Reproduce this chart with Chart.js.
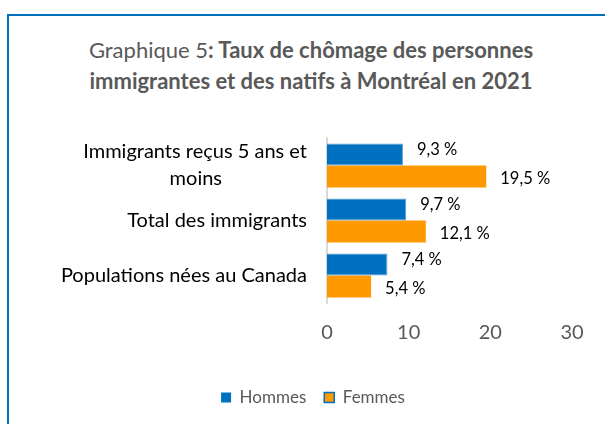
<!DOCTYPE html>
<html><head><meta charset="utf-8">
<script src="https://cdn.jsdelivr.net/npm/chart.js@4/dist/chart.umd.min.js"></script>
<style>
html,body{margin:0;padding:0;background:#fff;width:605px;height:424px;overflow:hidden;}
#frame{position:absolute;left:7px;top:14px;width:640px;height:460px;border:2px solid #0070C0;box-sizing:border-box;}
#title{position:absolute;left:0;top:34px;width:622px;text-align:center;font-family:Lato,sans-serif;font-size:22px;line-height:31px;color:#595959;}
#title b{font-weight:bold;}
#wrap{position:absolute;left:0;top:0;width:605px;height:424px;}
</style></head>
<body>
<div id="frame"></div>
<div id="title">Graphique 5<b>: Taux de chômage des personnes<br>immigrantes et des natifs à Montréal en 2021</b></div>
<div id="wrap"><canvas id="c" width="605" height="424"></canvas></div>
<script>
const categories = [["Immigrants reçus 5 ans et","moins"], "Total des immigrants", "Populations nées au Canada"];
const seriesNames = ["Hommes", "Femmes"];
const hommes = [9.3, 9.7, 7.4];
const femmes = [19.5, 12.1, 5.4];
const xTicks = [0, 10, 20, 30];

const fmt = v => v.toFixed(1).replace('.', ',') + ' %';
const yFont = '20px Lato, sans-serif';
const mctx = document.createElement('canvas').getContext('2d');
mctx.font = yFont;
// center the lines of a multi-line category label (right-aligned block)
function centerLines(lbl) {
  if (!Array.isArray(lbl)) return lbl;
  const widths = lbl.map(l => mctx.measureText(l).width);
  const maxW = Math.max(...widths);
  const sp = mctx.measureText('\u2009').width || 3;
  return lbl.map((l, i) => l + '\u2009'.repeat(Math.round((maxW - widths[i]) / 2 / sp)));
}

const labelPlugin = {
  id: 'barLabels',
  afterDatasetsDraw(chart) {
    const ctx = chart.ctx;
    ctx.save();
    ctx.font = '16.5px Lato, sans-serif';
    ctx.fillStyle = '#000';
    ctx.textAlign = 'left';
    ctx.textBaseline = 'middle';
    const dy = [-5, 2];
    chart.data.datasets.forEach((ds, di) => {
      const meta = chart.getDatasetMeta(di);
      meta.data.forEach((el, i) => {
        ctx.fillText(fmt(ds.data[i]), el.x + 14, el.y + dy[di]);
      });
    });
    ctx.restore();
  }
};

new Chart(document.getElementById('c'), {
  type: 'bar',
  data: {
    labels: categories,
    datasets: [
      { label: seriesNames[0], data: hommes, backgroundColor: '#0070C0', borderColor: '#5B9BD5', borderWidth: 1, borderSkipped: 'start' },
      { label: seriesNames[1], data: femmes, backgroundColor: '#FF9900', borderWidth: 0 }
    ]
  },
  options: {
    indexAxis: 'y',
    responsive: false,
    animation: false,
    devicePixelRatio: 1,
    categoryPercentage: 0.8,
    barPercentage: 1,
    layout: { padding: { top: 138, right: 33, left: 54, bottom: 8 } },
    scales: {
      x: {
        min: 0, max: 30,
        afterBuildTicks: s => { s.ticks = xTicks.map(v => ({ value: v })); },
        grid: { display: false, drawTicks: false },
        border: { display: false },
        ticks: { color: '#595959', font: { family: 'Lato, sans-serif', size: 20 }, padding: 18 },
        afterFit: s => { s.height = 68; }
      },
      y: {
        grid: { display: false, drawTicks: false },
        border: { display: true, color: '#D9D9D9', width: 2 },
        ticks: {
          autoSkip: false,
          color: '#000', font: { family: 'Lato, sans-serif', size: 20, lineHeight: 1.35 }, padding: 20,
          callback: function (v, i) { return centerLines(categories[i]); }
        },
        afterFit: s => { s.width = 273; }
      }
    },
    plugins: {
      legend: {
        position: 'bottom',
        labels: {
          color: '#595959',
          font: { family: 'Lato, sans-serif', size: 17 },
          boxWidth: 10, boxHeight: 10, padding: 18,
          generateLabels: chart => chart.data.datasets.map((ds, i) => ({
            text: ds.label, fillStyle: ds.backgroundColor,
            strokeStyle: i === 1 ? '#0070C0' : ds.backgroundColor,
            lineWidth: i === 1 ? 1.5 : 0, fontColor: '#595959', datasetIndex: i, hidden: false
          }))
        }
      },
      tooltip: { enabled: false },
      title: { display: false }
    }
  },
  plugins: [labelPlugin]
});
</script>
</body></html>
